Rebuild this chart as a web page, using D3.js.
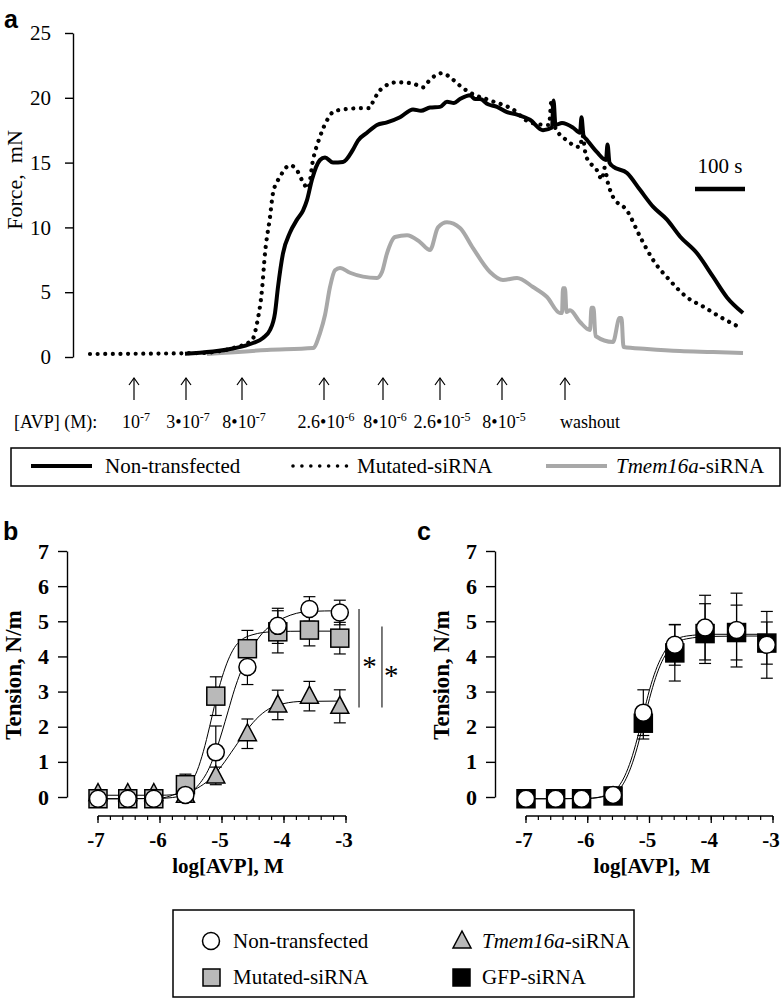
<!DOCTYPE html>
<html><head><meta charset="utf-8">
<script src="https://cdn.jsdelivr.net/npm/d3@7"></script>
<style>
body{margin:0;background:#fff;}
svg{display:block;}
text{font-family:"Liberation Serif","Times New Roman",serif;fill:#000;}
</style></head><body>
<script>
// ---------- Panel a: force traces (time in s, force in mN) ----------
const forceTicks = [0,5,10,15,20,25];
const nonTransfectedTrace = [[190,0.25],[286,0.65],[326,1.08],[346,1.47],[360,2.08],[370,3.4],[376,5.4],[386,8.0],[400,9.6],[414,10.6],[426,11.3],[434,12.1],[444,13.7],[460,15.2],[470,15.4],[486,15.0],[506,15.05],[526,16.0],[536,16.7],[554,17.3],[574,17.9],[594,18.1],[620,18.5],[646,19.1],[662,19.0],[680,19.25],[700,19.3],[714,19.7],[728,19.6],[740,19.9],[760,20.2],[770,19.9],[780,19.9],[796,19.5],[814,19.3],[834,18.9],[854,18.7],[880,18.3],[906,17.5],[924,17.7],[927,19.8],[931,17.9],[944,18.05],[966,17.7],[980,17.3],[983,18.5],[987,17.1],[994,16.75],[1014,15.8],[1032,15.2],[1035,16.4],[1039,15.0],[1046,14.7],[1074,14.2],[1100,12.9],[1126,11.6],[1154,10.6],[1180,9.3],[1214,8.0],[1246,6.2],[1274,4.6],[1306,3.4]];
const mutatedTrace = [[0,0.23],[220,0.31],[286,0.69],[324,1.3],[334,2.6],[344,5.2],[350,8.0],[360,10.8],[366,12.65],[380,13.9],[400,14.8],[414,14.4],[426,13.5],[436,13.0],[446,15.2],[460,17.0],[476,18.4],[486,18.9],[506,19.1],[546,19.2],[560,19.2],[566,19.7],[586,20.8],[614,21.2],[646,21.1],[666,20.8],[680,21.4],[704,21.9],[726,21.4],[744,20.8],[760,20.4],[800,19.8],[846,19.1],[880,18.1],[918,17.9],[923,19.8],[928,17.9],[954,16.7],[980,16.2],[985,17.1],[992,15.5],[1014,14.4],[1024,13.7],[1029,14.6],[1036,13.4],[1046,12.35],[1074,11.3],[1100,9.3],[1126,7.5],[1160,5.9],[1194,4.6],[1226,3.9],[1260,3.1],[1294,2.4]];
const tmemTrace = [[234,0.23],[354,0.54],[446,0.69],[460,1.85],[470,3.24],[480,5.4],[490,6.7],[500,6.87],[520,6.5],[546,6.2],[574,6.1],[584,6.56],[594,8.0],[610,9.26],[634,9.4],[660,8.87],[680,8.26],[696,10.0],[714,10.4],[740,9.95],[766,8.4],[800,6.56],[826,5.94],[854,6.1],[886,5.4],[914,4.63],[940,3.4],[944,3.4],[946,5.3],[950,5.3],[953,3.47],[960,3.6],[980,2.7],[1000,2.08],[1003,3.8],[1007,3.8],[1011,1.62],[1046,1.16],[1059,3.0],[1063,3.0],[1067,0.77],[1114,0.62],[1180,0.46],[1246,0.39],[1306,0.31]];
const avpTimes = [88,192,304,468,586,700,824,950];
const avpLabels = [["10","-7"],["3\u202210","-7"],["8\u202210","-7"],["2.6\u202210","-6"],["8\u202210","-6"],["2.6\u202210","-5"],["8\u202210","-5"],["washout",""]];
const scaleBar = [1210,1310];

// ---------- Panels b, c: concentration-response ----------
const logAVP = [-7,-6.52,-6.10,-5.59,-5.10,-4.59,-4.10,-3.59,-3.10];
const xTicks = [-7,-6,-5,-4,-3];
const tensionTicks = [0,1,2,3,4,5,6,7];
const bNon = [-0.05,-0.05,-0.05,0.06,1.27,3.7,4.87,5.35,5.25];
const bNonErr = [0,0,0,0.05,0.75,0.5,0.5,0.35,0.35];
const bMut = [-0.05,-0.05,-0.05,0.35,2.87,4.22,4.7,4.75,4.52];
const bMutErr = [0,0,0,0.3,0.55,0.52,0.6,0.45,0.45];
const bTmem = [0.1,0.1,0.1,0.05,0.6,1.8,2.62,2.87,2.58];
const bTmemErr = [0,0,0,0,0.25,0.42,0.42,0.42,0.47];
const bNonFit = [[-7,-0.05],[-6.5,-0.05],[-6,-0.04],[-5.6,0.05],[-5.4,0.3],[-5.2,0.85],[-5.1,1.3],[-5.0,1.85],[-4.9,2.45],[-4.8,3.05],[-4.7,3.55],[-4.6,3.95],[-4.4,4.55],[-4.2,4.9],[-4.0,5.1],[-3.6,5.28],[-3.1,5.3]];
const bMutFit = [[-7,-0.05],[-6.5,-0.05],[-6,-0.03],[-5.8,0.05],[-5.6,0.25],[-5.4,0.75],[-5.3,1.3],[-5.2,2.0],[-5.1,2.75],[-5.0,3.4],[-4.9,3.9],[-4.8,4.25],[-4.7,4.45],[-4.5,4.62],[-4.2,4.7],[-3.6,4.72],[-3.1,4.72]];
const bTmemFit = [[-7,0.05],[-6.5,0.05],[-6,0.05],[-5.6,0.1],[-5.4,0.25],[-5.2,0.5],[-5.0,0.9],[-4.8,1.4],[-4.6,1.9],[-4.4,2.3],[-4.2,2.55],[-4.0,2.66],[-3.7,2.72],[-3.1,2.73]];
const cNon = [-0.05,-0.05,-0.05,0.06,2.4,4.33,4.82,4.75,4.33];
const cNonErr = [0,0,0,0.05,0.65,0.58,0.92,1.05,0.95];
const cGfp = [-0.05,-0.05,-0.05,0.03,2.1,4.1,4.65,4.68,4.38];
const cGfpErr = [0,0,0,0,0.45,0.8,0.85,0.78,0.6];
const cNonFit = [[-7,-0.05],[-6.5,-0.05],[-6,-0.04],[-5.7,0.05],[-5.5,0.3],[-5.4,0.6],[-5.3,1.05],[-5.2,1.65],[-5.1,2.35],[-5.0,3.05],[-4.9,3.6],[-4.8,4.0],[-4.7,4.28],[-4.6,4.45],[-4.4,4.58],[-4.0,4.63],[-3.5,4.63],[-3.1,4.63]];
const cGfpFit = [[-7,-0.05],[-6.5,-0.05],[-6,-0.04],[-5.7,0.03],[-5.5,0.2],[-5.4,0.45],[-5.3,0.85],[-5.2,1.4],[-5.1,2.1],[-5.0,2.8],[-4.9,3.4],[-4.8,3.85],[-4.7,4.15],[-4.6,4.35],[-4.4,4.5],[-4.0,4.57],[-3.5,4.58],[-3.1,4.58]];
const sigLines = [[-2.79,5.35,2.55],[-2.42,4.85,2.55]];

const GRAY = "#b9b9b9";
const svg = d3.select("body").append("svg").attr("width",782).attr("height",999);

// ===== Panel a =====
const xa = d3.scaleLinear().domain([0,1400]).range([90,790]);
const ya = d3.scaleLinear().domain([0,25]).range([357,33]);
svg.append("text").attr("x",4).attr("y",28).style("font-family","Liberation Sans, Arial, sans-serif").style("font-weight","bold").style("font-size","25px").text("a");
const gya = svg.append("g").attr("transform","translate(73,0)")
  .call(d3.axisLeft(ya).tickValues(forceTicks).tickSize(8).tickSizeOuter(0).tickPadding(14));
gya.selectAll("path,line").attr("stroke","#000").attr("stroke-width",1.4);
gya.selectAll("text").style("font-size","21px").style("font-family","Liberation Serif, serif");
svg.append("text").attr("transform","translate(22,180) rotate(-90)").attr("text-anchor","middle")
  .style("font-size","22px").style("white-space","pre").text("Force,  mN");

const lineA = d3.line().x(d=>xa(d[0])).y(d=>ya(d[1])).curve(d3.curveMonotoneX);
svg.append("path").datum(tmemTrace).attr("d",lineA).attr("fill","none").attr("stroke","#a8a8a8").attr("stroke-width",4).attr("stroke-linejoin","round");
svg.append("path").datum(nonTransfectedTrace).attr("d",lineA).attr("fill","none").attr("stroke","#000").attr("stroke-width",4).attr("stroke-linejoin","round");
svg.append("path").datum(mutatedTrace).attr("d",lineA).attr("fill","none").attr("stroke","#000").attr("stroke-width",4.2).attr("stroke-linecap","round").attr("stroke-dasharray","0.01 7.6");

// scale bar
svg.append("line").attr("x1",xa(scaleBar[0])).attr("x2",xa(scaleBar[1])).attr("y1",189).attr("y2",189).attr("stroke","#000").attr("stroke-width",4.5);
svg.append("text").attr("x",(xa(scaleBar[0])+xa(scaleBar[1]))/2).attr("y",173).attr("text-anchor","middle").style("font-size","21px").text("100 s");

// arrows + labels
const arr = svg.append("g").selectAll("g").data(avpTimes).join("g");
arr.append("line").attr("x1",d=>xa(d)).attr("x2",d=>xa(d)).attr("y1",400).attr("y2",378).attr("stroke","#000").attr("stroke-width",1.2);
arr.append("path").attr("d",d=>`M${xa(d)-5},385L${xa(d)},378L${xa(d)+5},385`).attr("fill","none").attr("stroke","#000").attr("stroke-width",1.2);
svg.append("text").attr("x",14).attr("y",428).style("font-size","18px").text("[AVP] (M):");
avpLabels.forEach((lab,i)=>{
  const last = lab[1]==="";
  const t = svg.append("text").attr("x",last? xa(avpTimes[i])-5 : xa(avpTimes[i])+2).attr("y",428)
    .attr("text-anchor",last?"start":"middle").style("font-size","18px");
  t.append("tspan").text(lab[0]);
  if(!last) t.append("tspan").attr("dy",-7).style("font-size","12px").text(lab[1]);
});

// legend a
svg.append("rect").attr("x",11).attr("y",448).attr("width",769).attr("height",38).attr("fill","none").attr("stroke","#000").attr("stroke-width",1.5);
svg.append("line").attr("x1",31).attr("x2",92).attr("y1",466).attr("y2",466).attr("stroke","#000").attr("stroke-width",4);
svg.append("text").attr("x",105).attr("y",473).style("font-size","21px").text("Non-transfected");
svg.append("line").attr("x1",293).attr("x2",347).attr("y1",466).attr("y2",466).attr("stroke","#000").attr("stroke-width",3.6).attr("stroke-linecap","round").attr("stroke-dasharray","0.01 8.9");
svg.append("text").attr("x",357).attr("y",473).style("font-size","21px").text("Mutated-siRNA");
svg.append("line").attr("x1",546).attr("x2",607).attr("y1",466).attr("y2",466).attr("stroke","#a8a8a8").attr("stroke-width",4);
const lt = svg.append("text").attr("x",616).attr("y",473).style("font-size","21px");
lt.append("tspan").style("font-style","italic").text("Tmem16a");
lt.append("tspan").text("-siRNA");

// ===== Panels b, c =====
function dosePanel(opt){
  const xs = d3.scaleLinear().domain([-7,-3]).range(opt.xr);
  const ys = d3.scaleLinear().domain([0,7]).range([797,551]);
  svg.append("text").attr("x",opt.lx).attr("y",540).style("font-family","Liberation Sans, Arial, sans-serif").style("font-weight","bold").style("font-size","25px").text(opt.label);
  const gy = svg.append("g").attr("transform",`translate(${opt.xr[0]-31},0)`)
    .call(d3.axisLeft(ys).tickValues(tensionTicks).tickSize(9).tickSizeOuter(0).tickPadding(9).tickFormat(d3.format("d")));
  gy.selectAll("path,line").attr("stroke","#000").attr("stroke-width",1.4);
  gy.selectAll("text").style("font-size","22px").style("font-weight","bold").style("font-family","Liberation Serif, serif");
  // x axis
  const gx = svg.append("g").attr("transform","translate(0,816)");
  gx.append("line").attr("x1",xs(-7)).attr("x2",xs(-3)).attr("stroke","#000").attr("stroke-width",1.4);
  const minor = d3.range(0,21).map(i=>-7+i*0.2);
  gx.selectAll("line.mn").data(minor).join("line").attr("class","mn")
    .attr("x1",d=>xs(d)).attr("x2",d=>xs(d)).attr("y1",0).attr("y2",4).attr("stroke","#000").attr("stroke-width",1.2);
  gx.selectAll("line.mj").data(xTicks).join("line").attr("class","mj")
    .attr("x1",d=>xs(d)).attr("x2",d=>xs(d)).attr("y1",0).attr("y2",7).attr("stroke","#000").attr("stroke-width",1.3);
  gx.selectAll("text").data(xTicks).join("text").attr("x",d=>xs(d)-2).attr("y",31).attr("text-anchor","middle")
    .style("font-size","21px").style("font-weight","bold").text(d=>"-"+Math.abs(d));
  svg.append("text").attr("x",opt.tx).attr("y",873).attr("text-anchor","middle").style("font-size","21px").style("font-weight","bold").style("white-space","pre").text(opt.xtitle);
  svg.append("text").attr("transform",`translate(${opt.xr[0]-77},675) rotate(-90)`).attr("text-anchor","middle")
    .style("font-size","23px").style("font-weight","bold").text("Tension, N/m");
  const line = d3.line().x(d=>xs(d[0])).y(d=>ys(d[1])).curve(d3.curveMonotoneX);
  opt.fits.forEach(f=>svg.append("path").datum(f).attr("d",line).attr("fill","none").attr("stroke","#000").attr("stroke-width",1));
  opt.series.forEach(s=>{
    const g = svg.append("g");
    logAVP.forEach((x,i)=>{
      const e = s.err[i];
      if(e>0.08){
        const X = xs(x);
        g.append("line").attr("x1",X).attr("x2",X).attr("y1",ys(s.v[i]-e)).attr("y2",ys(s.v[i]+e)).attr("stroke","#000").attr("stroke-width",1.2);
        [s.v[i]-e,s.v[i]+e].forEach(yv=>g.append("line").attr("x1",X-6).attr("x2",X+6).attr("y1",ys(yv)).attr("y2",ys(yv)).attr("stroke","#000").attr("stroke-width",1.2));
      }
    });
  });
  opt.series.forEach(s=>{
    const g = svg.append("g");
    logAVP.forEach((x,i)=>{
      const X = xs(x), Y = ys(s.v[i]);
      if(s.shape==="circle") g.append("circle").attr("cx",X).attr("cy",Y).attr("r",8.5).attr("fill",s.fill).attr("stroke","#000").attr("stroke-width",1.5);
      else if(s.shape==="square") g.append("rect").attr("x",X-9).attr("y",Y-9).attr("width",18).attr("height",18).attr("fill",s.fill).attr("stroke","#000").attr("stroke-width",1.5);
      else g.append("path").attr("d",`M${X},${Y-10}L${X+9},${Y+7}L${X-9},${Y+7}Z`).attr("fill",s.fill).attr("stroke","#000").attr("stroke-width",1.5);
    });
  });
  return {xs,ys};
}

const pb = dosePanel({xr:[98,346], lx:3, label:"b", tx:228, xtitle:"log[AVP], M",
  fits:[bTmemFit,bMutFit,bNonFit],
  series:[{v:bTmem,err:bTmemErr,shape:"triangle",fill:GRAY},{v:bMut,err:bMutErr,shape:"square",fill:GRAY},{v:bNon,err:bNonErr,shape:"circle",fill:"#fff"}]});
sigLines.forEach(s=>svg.append("line").attr("x1",pb.xs(s[0])).attr("x2",pb.xs(s[0])).attr("y1",pb.ys(s[1])).attr("y2",pb.ys(s[2])).attr("stroke","#222").attr("stroke-width",1.2));
svg.append("text").attr("x",pb.xs(-2.62)).attr("y",676).attr("text-anchor","middle").style("font-size","29px").text("*");
svg.append("text").attr("x",pb.xs(-2.27)).attr("y",685).attr("text-anchor","middle").style("font-size","29px").text("*");

dosePanel({xr:[526,773], lx:417, label:"c", tx:652, xtitle:"log[AVP],  M",
  fits:[cGfpFit,cNonFit],
  series:[{v:cGfp,err:cGfpErr,shape:"square",fill:"#000"},{v:cNon,err:cNonErr,shape:"circle",fill:"#fff"}]});

// bottom legend
svg.append("rect").attr("x",173).attr("y",910).attr("width",461).attr("height",87).attr("fill","none").attr("stroke","#000").attr("stroke-width",1.5);
svg.append("circle").attr("cx",211).attr("cy",941).attr("r",8.5).attr("fill","#fff").attr("stroke","#000").attr("stroke-width",1.5);
svg.append("text").attr("x",233).attr("y",948).style("font-size","21px").text("Non-transfected");
svg.append("rect").attr("x",203).attr("y",969).attr("width",17).attr("height",17).attr("fill",GRAY).attr("stroke","#000").attr("stroke-width",1.5);
svg.append("text").attr("x",233).attr("y",984).style("font-size","21px").text("Mutated-siRNA");
svg.append("path").attr("d","M462,931L471,948L453,948Z").attr("fill",GRAY).attr("stroke","#000").attr("stroke-width",1.5);
const lt2 = svg.append("text").attr("x",482).attr("y",948).style("font-size","21px");
lt2.append("tspan").style("font-style","italic").text("Tmem16a");
lt2.append("tspan").text("-siRNA");
svg.append("rect").attr("x",453).attr("y",969).attr("width",17).attr("height",17).attr("fill","#000").attr("stroke","#000").attr("stroke-width",1.5);
svg.append("text").attr("x",482).attr("y",984).style("font-size","21px").text("GFP-siRNA");
</script>
</body></html>
